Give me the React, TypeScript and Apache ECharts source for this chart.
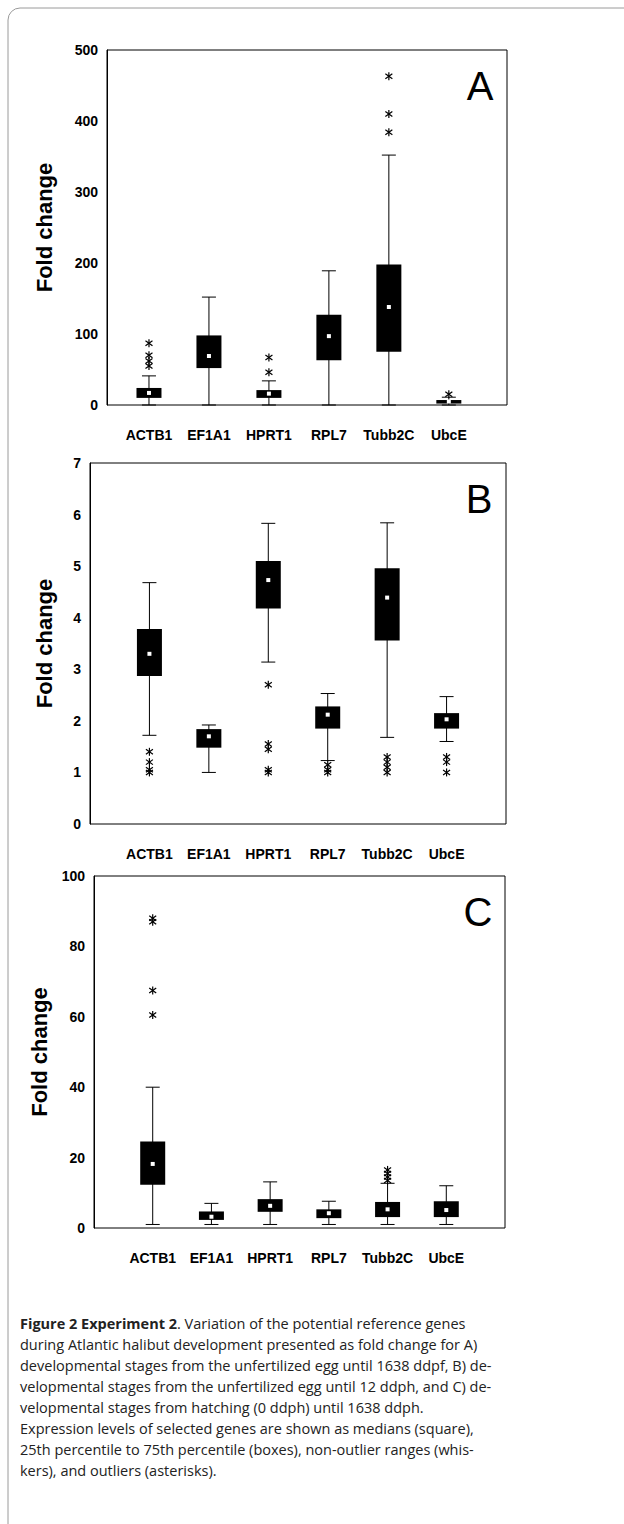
import React, { useEffect, useRef } from 'react';
import * as echarts from 'echarts';

const genes = ['ACTB1', 'EF1A1', 'HPRT1', 'RPL7', 'Tubb2C', 'UbcE'];

// [low whisker, q1, median, q3, high whisker]
const boxesA = [
  [0, 10, 17, 24, 41], [0, 52, 69, 98, 152], [0, 10, 16, 21, 34],
  [0, 63, 97, 127, 189], [0, 75, 138, 198, 352], [0, 2, 5, 7, 11],
];
const outliersA = [
  [1, 87], [1, 70], [1, 62], [1, 55], [3, 67], [3, 46],
  [5, 463], [5, 410], [5, 384], [6, 15],
];
const boxesB = [
  [1.72, 2.87, 3.3, 3.78, 4.68], [1.0, 1.48, 1.7, 1.84, 1.92], [3.14, 4.18, 4.73, 5.1, 5.83],
  [1.23, 1.85, 2.12, 2.28, 2.53], [1.68, 3.56, 4.39, 4.96, 5.84], [1.6, 1.85, 2.03, 2.15, 2.47],
];
const outliersB = [
  [1, 1.4], [1, 1.2], [1, 1.05], [1, 1.0],
  [3, 2.7], [3, 1.55], [3, 1.45], [3, 1.05], [3, 1.0],
  [4, 1.15], [4, 1.05], [4, 1.0],
  [5, 1.3], [5, 1.2], [5, 1.1], [5, 1.0],
  [6, 1.3], [6, 1.2], [6, 1.0],
];
const boxesC = [
  [1, 12.3, 18.2, 24.6, 40], [1, 2.3, 3.2, 4.7, 7], [1, 4.6, 6.3, 8.2, 13.1],
  [1, 2.8, 4.2, 5.3, 7.6], [1, 3.1, 5.3, 7.4, 12.7], [1, 3.1, 5.1, 7.6, 12],
];
const outliersC = [
  [1, 88], [1, 87], [1, 67.5], [1, 60.5],
  [5, 13.5], [5, 14.5], [5, 15.5], [5, 16.5],
];

const yTicksA = { max: 500, interval: 100 };
const yTicksB = { max: 7, interval: 1 };
const yTicksC = { max: 100, interval: 20 };

const captionLines = [
  'during Atlantic halibut development presented as fold change for A)',
  'developmental stages from the unfertilized egg until 1638 ddpf, B) de-',
  'velopmental stages from the unfertilized egg until 12 ddph, and C) de-',
  'velopmental stages from hatching (0 ddph) until 1638 ddph.',
  'Expression levels of selected genes are shown as medians (square),',
  '25th percentile to 75th percentile (boxes), non-outlier ranges (whis-',
  'kers), and outliers (asterisks).',
];

const FONT = 'Liberation Sans, Arial, sans-serif';

const panels = [
  { letter: 'A', grid: { left: 107, top: 50, width: 400, height: 355 }, xmin: 0.3, xmax: 6.97, y: yTicksA, boxes: boxesA, outliers: outliersA },
  { letter: 'B', grid: { left: 90, top: 463, width: 416, height: 361 }, xmin: 0, xmax: 7, y: yTicksB, boxes: boxesB, outliers: outliersB },
  { letter: 'C', grid: { left: 94, top: 876, width: 411, height: 352 }, xmin: 0, xmax: 7, y: yTicksC, boxes: boxesC, outliers: outliersC },
];

const App: React.FC = () => {
  const ref = useRef<HTMLDivElement>(null);

  useEffect(() => {
    if (!ref.current) return;
    const chart = echarts.init(ref.current, null, { renderer: 'svg' });

    const boxRender = (params: any, api: any) => {
      const x = api.value(0);
      const [cx, yLow] = api.coord([x, api.value(1)]);
      const yQ1 = api.coord([x, api.value(2)])[1];
      const yMed = api.coord([x, api.value(3)])[1];
      const yQ3 = api.coord([x, api.value(4)])[1];
      const yHigh = api.coord([x, api.value(5)])[1];
      const ls = { stroke: '#000', lineWidth: 1 };
      return {
        type: 'group',
        children: [
          { type: 'line', shape: { x1: cx, y1: yLow, x2: cx, y2: yHigh }, style: ls },
          { type: 'line', shape: { x1: cx - 7, y1: yLow, x2: cx + 7, y2: yLow }, style: ls },
          { type: 'line', shape: { x1: cx - 7, y1: yHigh, x2: cx + 7, y2: yHigh }, style: ls },
          { type: 'rect', shape: { x: cx - 12.5, y: yQ3, width: 25, height: Math.max(yQ1 - yQ3, 2) }, style: { fill: '#000' } },
          { type: 'rect', shape: { x: cx - 2, y: yMed - 2, width: 4, height: 4 }, style: { fill: '#fff' } },
        ],
      };
    };

    const starRender = (params: any, api: any) => {
      const [cx, cy] = api.coord([api.value(0), api.value(1)]);
      const ls = { stroke: '#000', lineWidth: 1.2 };
      const r = 4;
      return {
        type: 'group',
        children: [
          { type: 'line', shape: { x1: cx, y1: cy - r, x2: cx, y2: cy + r }, style: ls },
          { type: 'line', shape: { x1: cx - 3.5, y1: cy - 2.5, x2: cx + 3.5, y2: cy + 2.5 }, style: ls },
          { type: 'line', shape: { x1: cx - 3.5, y1: cy + 2.5, x2: cx + 3.5, y2: cy - 2.5 }, style: ls },
        ],
      };
    };

    const labelRender = (params: any, api: any) => {
      const [cx, cy] = api.coord([api.value(0), 0]);
      return {
        type: 'text',
        x: cx,
        y: cy + 30,
        style: { text: genes[params.dataIndex], fontFamily: FONT, fontWeight: 'bold', fontSize: 14, fill: '#000', align: 'center', verticalAlign: 'middle' },
      };
    };

    const grid: any[] = [];
    const xAxis: any[] = [];
    const yAxis: any[] = [];
    const series: any[] = [];
    const graphic: any[] = [
      { type: 'rect', shape: { x: 8, y: 8, width: 700, height: 1600, r: 12 }, style: { fill: 'none', stroke: '#9a9a9a', lineWidth: 1 } },
      {
        type: 'text', x: 20, y: 1323,
        style: {
          text: '{b|Figure 2 Experiment 2}. Variation of the potential reference genes',
          rich: { b: { fontWeight: 'bold', fontFamily: 'Open Sans', fontSize: 14.5, fill: '#222' } },
          fontFamily: 'Open Sans', fontSize: 14.5, fill: '#222', verticalAlign: 'middle',
        },
      },
      ...captionLines.map((t, i) => ({
        type: 'text', x: 20, y: 1344 + i * 21,
        style: { text: t, fontFamily: 'Open Sans', fontSize: 14.5, fill: '#222', verticalAlign: 'middle' },
      })),
    ];

    panels.forEach((p, i) => {
      grid.push({ ...p.grid, show: true, borderColor: '#000', borderWidth: 1, backgroundColor: 'transparent' });
      xAxis.push({ type: 'value', gridIndex: i, min: p.xmin, max: p.xmax, show: false });
      yAxis.push({
        type: 'value', gridIndex: i, min: 0, max: p.y.max, interval: p.y.interval,
        name: 'Fold change', nameLocation: 'middle', nameGap: p.grid.left - 55,
        nameTextStyle: { fontFamily: FONT, fontWeight: 'bold', fontSize: 22, color: '#000' },
        axisLine: { show: true, lineStyle: { color: '#000' } },
        axisTick: { show: false },
        splitLine: { show: false },
        axisLabel: { fontFamily: FONT, fontWeight: 'bold', fontSize: 14, color: '#000', margin: 9 },
      });
      series.push({
        type: 'custom', xAxisIndex: i, yAxisIndex: i, renderItem: boxRender,
        data: p.boxes.map((b, k) => [k + 1, ...b]),
      });
      series.push({ type: 'custom', xAxisIndex: i, yAxisIndex: i, renderItem: starRender, data: p.outliers });
      series.push({ type: 'custom', xAxisIndex: i, yAxisIndex: i, renderItem: labelRender, data: genes.map((_, k) => [k + 1]) });
      graphic.push({
        type: 'text', x: p.grid.left + p.grid.width - 27, y: p.grid.top + 36,
        style: { text: p.letter, fontFamily: FONT, fontSize: 40, fill: '#000', align: 'center', verticalAlign: 'middle' },
      });
    });

    chart.setOption({ animation: false, grid, xAxis, yAxis, series, graphic });
    return () => chart.dispose();
  }, []);

  return <div ref={ref} style={{ position: 'absolute', left: 0, top: 0, width: 624, height: 1524, background: '#fff' }} />;
};

export default App;
